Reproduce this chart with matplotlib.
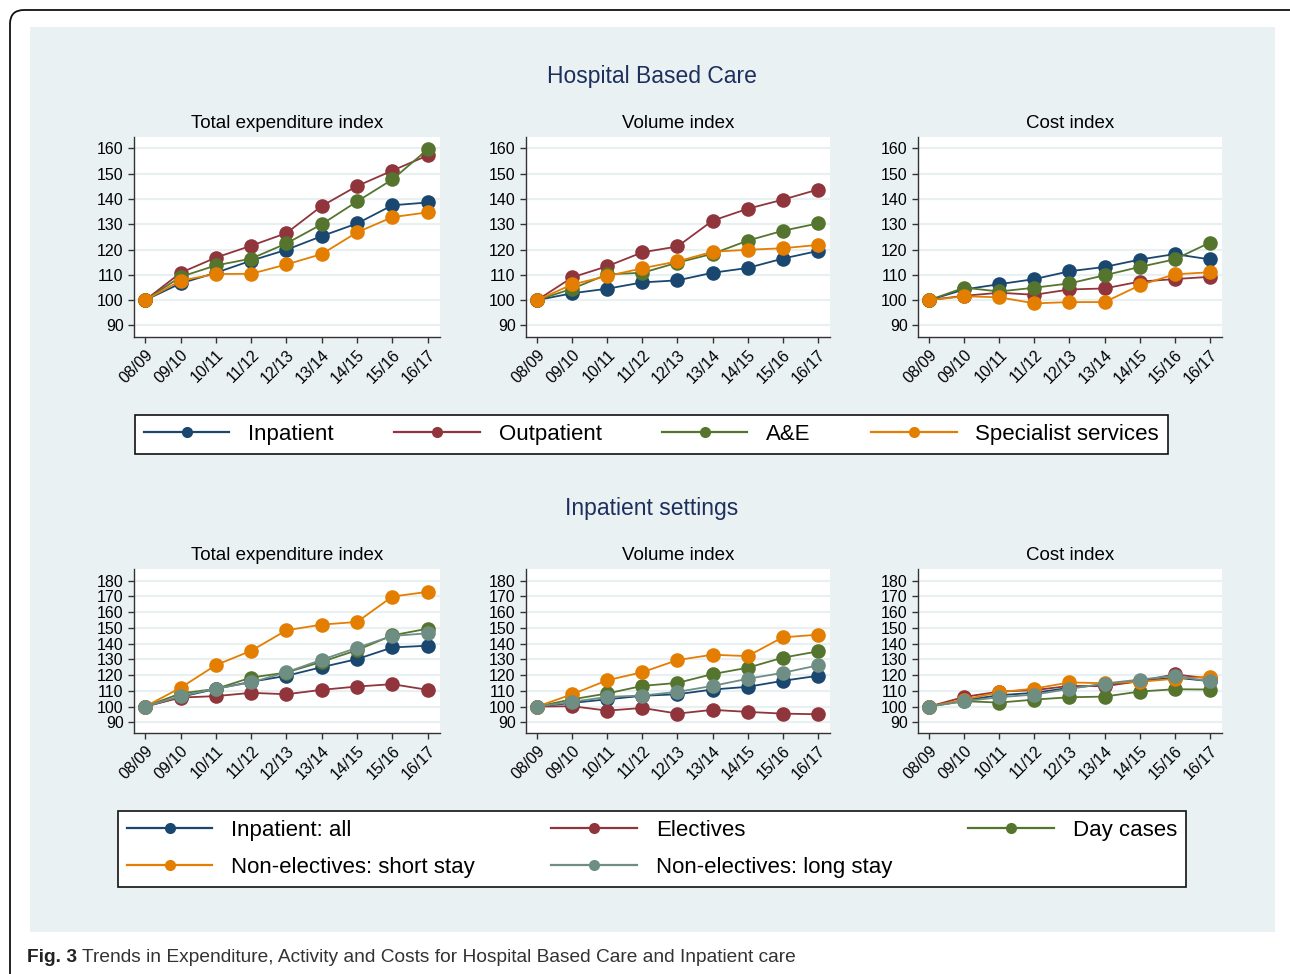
import matplotlib
matplotlib.use("Agg")
import matplotlib.pyplot as plt
from matplotlib.patches import Rectangle, FancyBboxPatch
from matplotlib.lines import Line2D

plt.rcParams['font.family'] = ['Liberation Sans', 'DejaVu Sans']

# ---------------- data ----------------
years = ["08/09", "09/10", "10/11", "11/12", "12/13", "13/14", "14/15", "15/16", "16/17"]

# Hospital based care
hosp_labels = ["Inpatient", "Outpatient", "A&E", "Specialist services"]
hosp_total_inpatient = [100, 106.6, 110.8, 115.6, 119.9, 125.3, 130.3, 137.5, 138.6]
hosp_total_outpatient = [100, 110.8, 116.8, 121.5, 126.5, 137.2, 145.1, 151.2, 157.2]
hosp_total_ae = [100, 109.2, 113.7, 116.4, 122.4, 130.0, 139.0, 147.7, 159.6]
hosp_total_specialist = [100, 107.7, 110.3, 110.4, 114.1, 118.2, 126.8, 132.8, 134.7]

hosp_volume_inpatient = [100, 102.7, 104.5, 107.0, 107.8, 110.8, 112.7, 116.4, 119.4]
hosp_volume_outpatient = [100, 109.0, 113.4, 118.9, 121.2, 131.4, 136.1, 139.7, 143.7]
hosp_volume_ae = [100, 104.5, 110.2, 110.8, 114.8, 118.3, 123.5, 127.4, 130.3]
hosp_volume_specialist = [100, 106.2, 109.5, 112.6, 115.3, 119.1, 119.9, 120.5, 121.8]

hosp_cost_inpatient = [100, 104.2, 106.3, 108.3, 111.4, 113.1, 116.0, 118.2, 116.1]
hosp_cost_outpatient = [100, 101.7, 102.9, 102.1, 104.2, 104.6, 107.3, 108.3, 109.2]
hosp_cost_ae = [100, 104.9, 103.4, 104.9, 106.6, 109.8, 113.1, 116.1, 122.7]
hosp_cost_specialist = [100, 101.5, 101.1, 98.7, 99.2, 99.2, 105.8, 110.2, 111.0]

# Inpatient settings
inp_labels = ["Inpatient: all", "Electives", "Day cases",
              "Non-electives: short stay", "Non-electives: long stay"]
inp_total_all = [100, 106.1, 111.2, 115.7, 119.5, 125.0, 130.1, 137.5, 138.6]
inp_total_electives = [100, 105.7, 106.6, 108.7, 107.8, 110.6, 112.7, 114.2, 110.6]
inp_total_daycases = [100, 108.3, 111.2, 118.4, 121.6, 128.4, 135.8, 145.2, 149.4]
inp_total_short = [100, 111.9, 126.3, 135.4, 148.4, 152.0, 153.7, 169.8, 172.8]
inp_total_long = [100, 106.6, 111.4, 115.3, 121.8, 129.7, 137.3, 144.8, 146.5]

inp_volume_all = [100, 102.3, 104.6, 106.8, 107.8, 110.8, 112.5, 116.3, 119.5]
inp_volume_electives = [100, 100.2, 97.4, 99.1, 95.5, 97.9, 96.6, 95.5, 95.1]
inp_volume_daycases = [100, 104.6, 108.3, 113.1, 115.0, 120.6, 124.6, 131.0, 135.0]
inp_volume_short = [100, 107.8, 116.7, 121.8, 129.5, 132.9, 132.0, 143.9, 145.6]
inp_volume_long = [100, 103.0, 106.1, 107.0, 109.3, 113.1, 117.6, 121.4, 126.1]

inp_cost_all = [100, 104.0, 107.2, 108.7, 111.9, 113.8, 116.1, 118.4, 116.1]
inp_cost_electives = [100, 106.1, 109.5, 110.4, 113.1, 112.9, 116.1, 120.4, 117.8]
inp_cost_daycases = [100, 103.4, 102.5, 104.4, 105.9, 106.3, 109.5, 111.0, 110.8]
inp_cost_short = [100, 104.4, 109.1, 111.4, 115.3, 114.8, 115.7, 117.6, 118.9]
inp_cost_long = [100, 103.4, 105.9, 107.6, 111.2, 114.6, 117.1, 119.5, 115.9]

hosp_colors = ["#1a476f", "#90353b", "#55752f", "#e37e00"]
inp_colors = ["#1a476f", "#90353b", "#55752f", "#e37e00", "#6e8e84"]

top_ticks = [90, 100, 110, 120, 130, 140, 150, 160]
bot_ticks = [90, 100, 110, 120, 130, 140, 150, 160, 170, 180]

# ---------------- figure ----------------
W, H = 1290, 974
fig = plt.figure(figsize=(W / 100, H / 100), dpi=100)
fig.patch.set_facecolor("white")

bg = fig.add_axes([0, 0, 1, 1], zorder=-10)
bg.set_xlim(0, W)
bg.set_ylim(H, 0)
bg.axis("off")
bg.add_patch(Rectangle((30, 27), 1245, 905, facecolor="#eaf1f3", edgecolor="none"))
bg.add_patch(FancyBboxPatch((10, 10), 1320, 1000,
                            boxstyle="round,pad=0,rounding_size=14",
                            facecolor="none", edgecolor="#111111", lw=1.3))

title_col = "#1e2f5e"
bg.text(651.5, 77, "Hospital Based Care", ha="center", va="center",
        fontsize=16.5, color=title_col)
bg.text(651.5, 509, "Inpatient settings", ha="center", va="center",
        fontsize=16.5, color=title_col)

def px_axes(x0, y0, x1, y1):
    return fig.add_axes([x0 / W, 1 - y1 / H, (x1 - x0) / W, (y1 - y0) / H])

col_x = [(134, 440), (526, 830), (918, 1222)]
sub_titles = ["Total expenditure index", "Volume index", "Cost index"]

top_data = [
    [hosp_total_inpatient, hosp_total_outpatient, hosp_total_ae, hosp_total_specialist],
    [hosp_volume_inpatient, hosp_volume_outpatient, hosp_volume_ae, hosp_volume_specialist],
    [hosp_cost_inpatient, hosp_cost_outpatient, hosp_cost_ae, hosp_cost_specialist],
]
bot_data = [
    [inp_total_all, inp_total_electives, inp_total_daycases, inp_total_short, inp_total_long],
    [inp_volume_all, inp_volume_electives, inp_volume_daycases, inp_volume_short, inp_volume_long],
    [inp_cost_all, inp_cost_electives, inp_cost_daycases, inp_cost_short, inp_cost_long],
]

def style_axes(ax, ticks, ylim):
    x = list(range(len(years)))
    ax.set_facecolor("white")
    ax.set_xlim(-0.32, 8.35)
    ax.set_ylim(*ylim)
    ax.set_yticks(ticks)
    ax.set_yticklabels([str(t) for t in ticks])
    ax.set_xticks(x)
    ax.set_xticklabels(years, rotation=45, ha="right", rotation_mode="anchor")
    for s in ["top", "right"]:
        ax.spines[s].set_visible(False)
    for s in ["left", "bottom"]:
        ax.spines[s].set_color("#333333")
        ax.spines[s].set_linewidth(1.0)
    ax.tick_params(axis="both", direction="out", length=4.5, width=1.0,
                   color="#333333", labelsize=11.5, labelcolor="black", pad=3)
    ax.yaxis.grid(True, color="#e8f0f2", lw=1.6)
    ax.set_axisbelow(True)

x = list(range(len(years)))
for i, (x0, x1) in enumerate(col_x):
    ax = px_axes(x0, 137, x1, 337)
    style_axes(ax, top_ticks, (85.4, 164.5))
    for series, c in zip(top_data[i], hosp_colors):
        ax.plot(x, series, color=c, lw=1.3, marker="o", ms=10.5, mew=0, clip_on=False)
    bg.text((x0 + x1) / 2, 123, sub_titles[i], ha="center", va="center", fontsize=13.5)

    ax = px_axes(x0, 569, x1, 733)
    style_axes(ax, bot_ticks, (83.2, 187.3))
    for series, c in zip(bot_data[i], inp_colors):
        ax.plot(x, series, color=c, lw=1.3, marker="o", ms=10.5, mew=0, clip_on=False)
    bg.text((x0 + x1) / 2, 555, sub_titles[i], ha="center", va="center", fontsize=13.5)

# ---------------- legends ----------------
def handles(colors):
    return [Line2D([0], [0], color=c, lw=1.6, marker="o", ms=8, mew=0) for c in colors]

leg_kw = dict(mode="expand", frameon=True, fancybox=False, edgecolor="#111111",
              facecolor="white", framealpha=1, fontsize=16, handlelength=3.85,
              handletextpad=0.85, borderpad=0.4, borderaxespad=0, markerscale=1.0)

l1 = fig.legend(handles(hosp_colors), hosp_labels, loc="center", ncol=4,
                bbox_to_anchor=(135 / W, 1 - 456 / H, (1168 - 135) / W, 43 / H), **leg_kw)
l1.get_frame().set_linewidth(1.2)

order = [0, 3, 1, 4, 2]
l2 = fig.legend([handles(inp_colors)[k] for k in order], [inp_labels[k] for k in order],
                loc="center", ncol=3, labelspacing=0.7,
                bbox_to_anchor=(118 / W, 1 - 888 / H, (1186 - 118) / W, 78 / H), **leg_kw)
l2.get_frame().set_linewidth(1.2)

# ---------------- caption ----------------
cap_font = ['Liberation Sans', 'DejaVu Sans']
bg.text(27, 957, "Fig. 3", ha="left", va="center", fontsize=13.8, fontweight="bold",
        color="#222222", family=cap_font)
bg.text(82, 957, "Trends in Expenditure, Activity and Costs for Hospital Based Care and Inpatient care",
        ha="left", va="center", fontsize=13.8, color="#333333", family=cap_font)

fig.savefig("out.png", dpi=100)
